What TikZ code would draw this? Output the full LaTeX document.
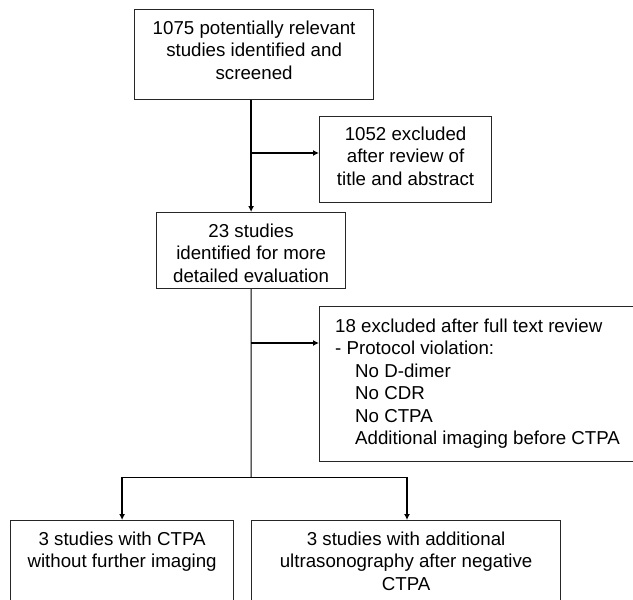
\documentclass[tikz,border=0pt]{standalone}
\usepackage{fontspec}
\setmainfont{Liberation Sans}
\usetikzlibrary{arrows.meta,positioning}
\begin{document}
\begin{tikzpicture}[x=1pt,y=-1pt,
  box/.style={draw=black!85,line width=1.2pt,rectangle,inner sep=0pt,anchor=north west},
  txt/.style={inner sep=0pt,font=\fontsize{18.7}{22.5}\selectfont,align=center,anchor=north},
  ltxt/.style={inner sep=0pt,font=\fontsize{18.7}{22.5}\selectfont,align=left,anchor=north west},
  thick line/.style={line width=1.6pt},
  thin line/.style={line width=1pt},
  arr/.style={-{Latex[length=6pt,width=6pt]}}]
\path[use as bounding box,clip] (0,0) rectangle (633,600);
\fill[white] (0,0) rectangle (633,600);
% boxes
\node[box,minimum width=239pt,minimum height=90pt] (b1) at (134,9) {};
\node[box,minimum width=172pt,minimum height=86pt] (b2) at (319,116) {};
\node[box,minimum width=189pt,minimum height=76pt] (b3) at (156,212) {};
\node[box,minimum width=313.5pt,minimum height=155pt] (b4) at (319,306) {};
\node[box,minimum width=223pt,minimum height=110pt] (b5) at (10,520) {};
\node[box,minimum width=309pt,minimum height=110pt] (b6) at (251,520) {};
% texts
\node[txt] (t1) at ([yshift=-11.4pt]b1.north) {1075 potentially relevant\\studies identified and\\screened};
\node[txt] (t2) at ([yshift=-10.4pt]b2.north) {1052 excluded\\after review of\\title and abstract};
\node[txt] (t3) at ([yshift=-11.4pt]b3.north) {23 studies\\identified for more\\detailed evaluation};
\node[ltxt] (t4) at ([xshift=16pt,yshift=-12.4pt]b4.north west) {18 excluded after full text review\\- Protocol violation:\\\hspace*{20pt}No D-dimer\\\hspace*{20pt}No CDR\\\hspace*{20pt}No CTPA\\\hspace*{20pt}Additional imaging before CTPA};
\node[txt] (t5) at ([yshift=-11.4pt]b5.north) {3 studies with CTPA\\without further imaging};
\node[txt] (t6) at ([yshift=-11.4pt]b6.north) {3 studies with additional\\ultrasonography after negative\\CTPA};
% junctions
\coordinate (top) at (b3.north |- b1.south);
\coordinate (j1) at (251,153);
\coordinate (j2) at (251,343);
\coordinate (j3) at (251,477);
\coordinate (l3) at (b5.north |- j3);
\coordinate (r3) at (407,477);
% connectors
\draw[thick line,arr] (top) -- (b3.north);
\draw[thick line,arr] (j1) -- (j1 -| b2.west);
\draw[thin line] (b3.south) -- (j3);
\draw[thick line,arr] (j2) -- (j2 -| b4.west);
\draw[thin line] (l3) -- (r3);
\draw[thick line,arr] (l3) -- (b5.north);
\draw[thick line,arr] (r3) -- (r3 |- b6.north);
\end{tikzpicture}
\end{document}
